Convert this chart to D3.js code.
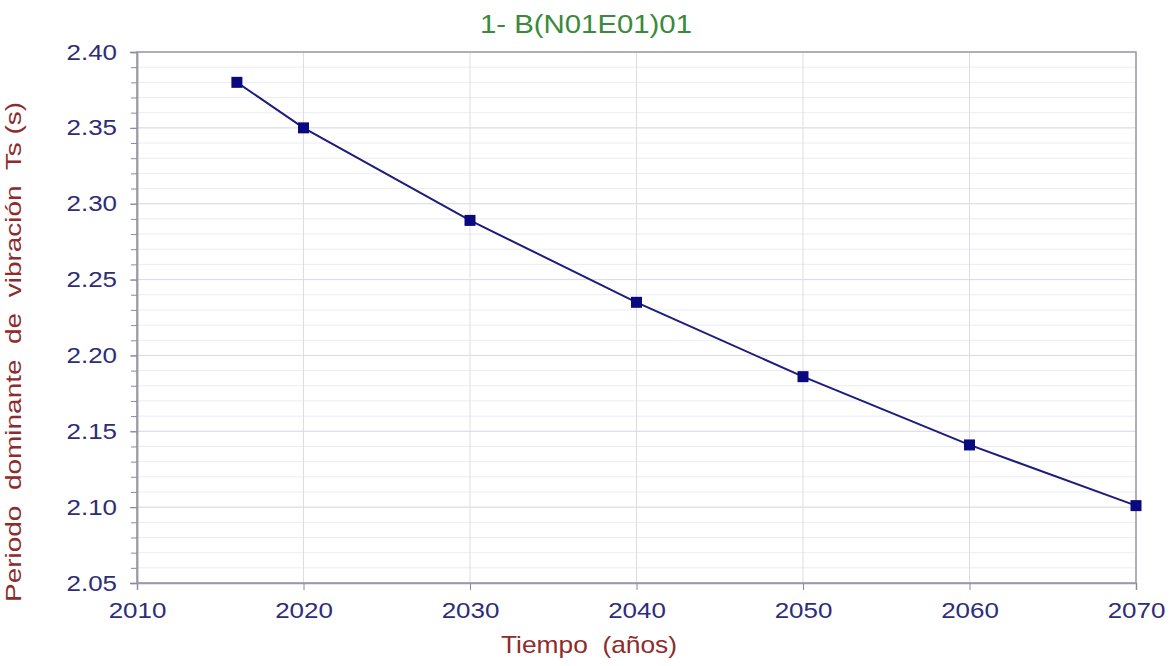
<!DOCTYPE html>
<html>
<head>
<meta charset="utf-8">
<script src="https://cdn.jsdelivr.net/npm/d3@7"></script>
<style>
  body { margin: 0; background: #fff; }
  text { font-family: "Liberation Sans", Arial, sans-serif; }
</style>
</head>
<body>
<div id="chart-area"></div>
<script>
// data
var years = [2016, 2020, 2030, 2040, 2050, 2060, 2070];
var periods = [2.380, 2.350, 2.289, 2.235, 2.186, 2.141, 2.101];
var xTicks = [2010, 2020, 2030, 2040, 2050, 2060, 2070];
var yTicks = [2.05, 2.10, 2.15, 2.20, 2.25, 2.30, 2.35, 2.40];
var yMinor = d3.range(205, 241).map(d => d / 100);

var width = 1173, height = 666;
var margin = {top: 52, right: 37, bottom: 83, left: 137};

var svg = d3.select("#chart-area")
    .append("svg")
    .attr("width", width)
    .attr("height", height);

var x = d3.scaleLinear()
    .domain([2010, 2070])
    .range([margin.left, width - margin.right]);

var y = d3.scaleLinear()
    .domain([2.05, 2.40])
    .range([height - margin.bottom, margin.top]);

// minor horizontal grid
svg.append("g")
    .selectAll("line")
    .data(yMinor)
    .enter()
    .append("line")
    .attr("x1", x(2010))
    .attr("x2", x(2070))
    .attr("y1", d => y(d))
    .attr("y2", d => y(d))
    .attr("stroke", "#ececf2")
    .attr("stroke-width", 1);

// major grid
svg.append("g")
    .selectAll("line")
    .data(yTicks)
    .enter()
    .append("line")
    .attr("x1", x(2010))
    .attr("x2", x(2070))
    .attr("y1", d => y(d))
    .attr("y2", d => y(d))
    .attr("stroke", "#dcdce6");

svg.append("g")
    .selectAll("line")
    .data(xTicks)
    .enter()
    .append("line")
    .attr("x1", d => x(d))
    .attr("x2", d => x(d))
    .attr("y1", y(2.05))
    .attr("y2", y(2.40))
    .attr("stroke", "#dcdce6");

// frame
svg.append("rect")
    .attr("x", x(2010))
    .attr("y", y(2.40))
    .attr("width", x(2070) - x(2010))
    .attr("height", y(2.05) - y(2.40))
    .attr("fill", "none")
    .attr("stroke", "#9a9aa8")
    .attr("stroke-width", 1.5);

// axes
var xAxis = svg.append("g")
    .attr("transform", "translate(0," + y(2.05) + ")")
    .call(d3.axisBottom(x).tickValues(xTicks).tickFormat(d3.format("d")).tickSize(7).tickPadding(12));

var yMinorAxis = svg.append("g")
    .attr("transform", "translate(" + x(2010) + ",0)")
    .call(d3.axisLeft(y).tickValues(yMinor).tickFormat("").tickSize(6));

var yAxis = svg.append("g")
    .attr("transform", "translate(" + x(2010) + ",0)")
    .call(d3.axisLeft(y).tickValues(yTicks).tickFormat(d3.format(".2f")).tickSize(7).tickPadding(13));

[xAxis, yAxis, yMinorAxis].forEach(function(g) {
    g.select(".domain").attr("stroke", "#9a9aa8").attr("stroke-width", 1.5);
    g.selectAll(".tick line").attr("stroke", "#8a8a9a");
    g.selectAll("text")
        .attr("fill", "#2d2d7a")
        .style("font-family", "'Liberation Sans', Arial, sans-serif")
        .style("font-size", "22px")
        .attr("transform", "scale(1.18,1)");
});
yAxis.selectAll("text").attr("x", -20 / 1.18);

// series
var line = d3.line()
    .x((d, i) => x(years[i]))
    .y(d => y(d));

svg.append("path")
    .datum(periods)
    .attr("d", line)
    .attr("fill", "none")
    .attr("stroke", "#1c1c7e")
    .attr("stroke-width", 2);

svg.selectAll("rect.pt")
    .data(periods)
    .enter()
    .append("rect")
    .attr("class", "pt")
    .attr("x", (d, i) => x(years[i]) - 5.5)
    .attr("y", d => y(d) - 5.5)
    .attr("width", 11)
    .attr("height", 11)
    .attr("fill", "#0a0a80");

// titles
svg.append("text")
    .attr("x", 586)
    .attr("y", 33)
    .attr("text-anchor", "middle")
    .attr("fill", "#3a8a3a")
    .style("font-size", "25px")
    .attr("textLength", 212)
    .attr("lengthAdjust", "spacingAndGlyphs")
    .text("1- B(N01E01)01");

svg.append("text")
    .attr("x", 589)
    .attr("y", 653)
    .attr("text-anchor", "middle")
    .attr("fill", "#8e2b2b")
    .style("font-size", "24px")
    .attr("xml:space", "preserve")
    .attr("textLength", 176)
    .attr("lengthAdjust", "spacingAndGlyphs")
    .text("Tiempo  (años)");

svg.append("text")
    .attr("transform", "translate(21,352) rotate(-90)")
    .attr("text-anchor", "middle")
    .attr("fill", "#8e2b2b")
    .style("font-size", "22px")
    .attr("xml:space", "preserve")
    .attr("textLength", 500)
    .attr("lengthAdjust", "spacingAndGlyphs")
    .text("Periodo  dominante  de  vibración  Ts (s)");
</script>
</body>
</html>
